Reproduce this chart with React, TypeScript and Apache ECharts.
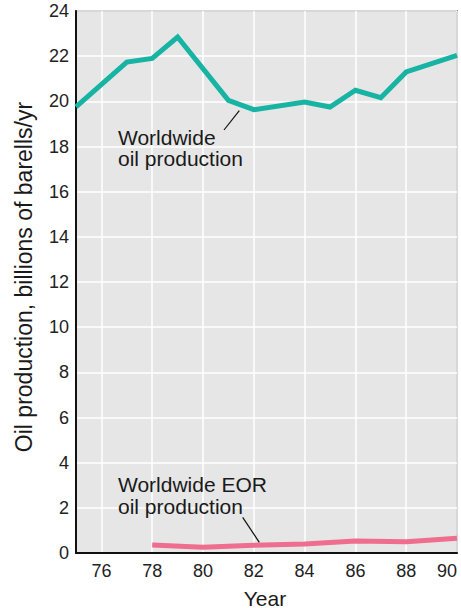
import React, { useEffect, useRef } from "react";
import * as echarts from "echarts";

const worldYears = [75, 77, 78, 79, 81, 82, 84, 85, 86, 87, 88, 90];
const worldValues = [19.75, 21.74, 21.9, 22.85, 20.04, 19.63, 19.97, 19.75, 20.49, 20.16, 21.3, 22.03];
const eorYears = [78, 80, 82, 84, 86, 88, 90];
const eorValues = [0.35, 0.25, 0.34, 0.4, 0.53, 0.5, 0.65];
const xLabelYears = [76, 78, 80, 82, 84, 86, 88, 90];

const FONT = "'Liberation Sans', Arial, Helvetica, sans-serif";

export default function App() {
  const ref = useRef<HTMLDivElement>(null);
  useEffect(() => {
    document.body.style.margin = "0";
    if (!ref.current) return;
    const chart = echarts.init(ref.current, null, { renderer: "svg" });
    const textStyle = { fill: "#1a1a1a", fontSize: 21, fontFamily: FONT };
    chart.setOption({
      animation: false,
      backgroundColor: "#ffffff",
      grid: {
        left: 76,
        top: 11,
        width: 381,
        height: 542,
        outerBoundsMode: "none",
        containLabel: false,
        show: true,
        backgroundColor: "#e6e6e6",
        borderColor: "#333",
        borderWidth: 1.5,
      },
      xAxis: {
        type: "value",
        min: 75,
        max: 90,
        interval: 1,
        axisLine: { show: true, onZero: false, lineStyle: { color: "#111", width: 2 } },
        axisTick: { show: false },
        axisLabel: {
          margin: 9,
          fontSize: 18,
          color: "#222",
          fontFamily: FONT,
          alignMaxLabel: "right",
          formatter: (v: number) => (xLabelYears.includes(v) ? String(v) : ""),
        },
        splitLine: {
          show: true,
          lineStyle: { color: ["rgba(255,255,255,0)", "#ffffff"], width: 1.5 },
        },
      },
      yAxis: {
        type: "value",
        min: 0,
        max: 24,
        interval: 2,
        axisLine: { show: true, lineStyle: { color: "#111", width: 2 } },
        axisTick: { show: false },
        axisLabel: { margin: 7, fontSize: 18, color: "#222", fontFamily: FONT },
        splitLine: { show: true, lineStyle: { color: "#ffffff", width: 1.5 } },
      },
      series: [
        {
          type: "line",
          data: worldYears.map((y, i) => [y, worldValues[i]]),
          symbol: "none",
          lineStyle: { color: "#17b3a3", width: 5, join: "miter" },
          z: 3,
        },
        {
          type: "line",
          data: eorYears.map((y, i) => [y, eorValues[i]]),
          symbol: "none",
          lineStyle: { color: "#ef6d8f", width: 5, join: "round" },
          z: 3,
        },
      ],
      graphic: [
        {
          type: "text",
          x: 24,
          y: 277,
          z: 10,
          rotation: Math.PI / 2,
          style: { text: "Oil production, billions of barells/yr", ...textStyle, fontSize: 23, textAlign: "center", textVerticalAlign: "middle" },
        },
        {
          type: "text",
          x: 265,
          y: 598,
          z: 10,
          style: { text: "Year", ...textStyle, fontSize: 21, textAlign: "center", textVerticalAlign: "middle" },
        },
        {
          type: "text",
          x: 118,
          y: 148,
          z: 10,
          style: { text: "Worldwide\noil production", ...textStyle, lineHeight: 21.5, textVerticalAlign: "middle" },
        },
        { type: "line", z: 10, shape: { x1: 239.3, y1: 110.7, x2: 224, y2: 130 }, style: { stroke: "#111", lineWidth: 1.2 } },
        {
          type: "text",
          x: 118,
          y: 495,
          z: 10,
          style: { text: "Worldwide EOR\noil production", ...textStyle, lineHeight: 22, textVerticalAlign: "middle" },
        },
        { type: "line", z: 10, shape: { x1: 242.7, y1: 517.3, x2: 259.3, y2: 542.3 }, style: { stroke: "#111", lineWidth: 1.2 } },
      ],
    });
    return () => chart.dispose();
  }, []);
  return <div ref={ref} style={{ width: 461, height: 608 }} />;
}
